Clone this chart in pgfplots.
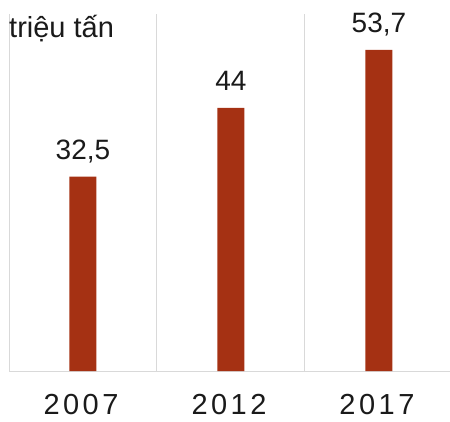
\documentclass[border=0pt]{standalone}
\usepackage{pgfplots}
\pgfplotsset{compat=1.18}
\usepackage{fontspec}
\setmainfont{Liberation Sans}
\definecolor{barred}{HTML}{A53113}
\definecolor{gridgray}{HTML}{D9D9D9}
\definecolor{txt}{HTML}{1A1A1A}
\begin{document}
\begin{tikzpicture}
\begin{axis}[
  scale only axis, width=441pt, height=357pt,
  xmin=-0.5, xmax=2.48, ymin=0, ymax=59.7,
  enlarge x limits=false,
  axis lines*=left,
  axis line style={draw=gridgray, line width=1pt},
  ytick=\empty,
  xtick={0,1,2},
  xticklabels={2007,2012,2017},
  major tick length=0pt, minor tick length=0pt,
  minor xtick={0.5,1.5},
  xminorgrids=true,
  minor grid style={draw=gridgray, line width=1pt},
  xticklabel style={font=\fontsize{29}{32}\selectfont\addfontfeatures{LetterSpace=12}, text=txt, anchor=north, inner sep=0pt, yshift=-23pt, xshift=-2pt},
  ybar, bar width=27pt,
  nodes near coords,
  every node near coord/.append style={font=\fontsize{28}{32}\selectfont, text=txt, inner sep=0pt, yshift=17pt, anchor=base},
  /pgf/number format/use comma,
  /pgf/number format/assume math mode=true,
]
\addplot[fill=barred, draw=none] coordinates {(0,32.5) (1,44) (2,53.7)};
\node[anchor=base west, inner sep=0pt, text=txt, font=\fontsize{29}{32}\selectfont] at (axis cs:-0.5,55.7) {triệu tấn};
\end{axis}
\pgfresetboundingbox
\path[use as bounding box] (-9pt,-50pt) rectangle (441pt,371pt);
\end{tikzpicture}
\end{document}
